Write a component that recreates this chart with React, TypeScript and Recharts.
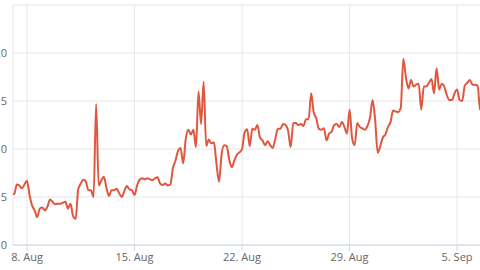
import { LineChart, Line, XAxis, YAxis, CartesianGrid } from 'recharts';

const DAY = 86400000;
const START = Date.UTC(2021, 7, 7);
const STEP = 4 * 3600 * 1000;

// one reading every 4 hours, starting 7 Aug
const values = [
    5.4, 5.3, 6.3, 6.2, 5.9, 6.3,
    6.7, 5.2, 4.1, 3.6, 2.9, 3.8,
    3.9, 3.6, 4.0, 4.75, 4.5, 4.25,
    4.3, 4.3, 4.4, 4.5, 3.8, 4.3,
    3.0, 2.7, 5.8, 6.4, 6.8, 6.6,
    5.7, 5.7, 5.0, 14.7, 6.2, 6.7,
    7.1, 6.0, 5.1, 5.7, 5.7, 5.85,
    5.4, 5.0, 5.6, 6.15, 5.8, 5.7,
    5.2, 6.2, 6.8, 6.95, 6.85, 6.95,
    6.85, 6.75, 6.95, 7.05, 6.4, 6.25,
    6.4, 6.2, 6.3, 8.0, 8.8, 9.8,
    10.1, 8.5, 11.0, 12.0, 11.5, 12.0,
    10.2, 16.0, 12.6, 17.0, 10.3, 11.0,
    10.6, 10.7, 8.5, 6.6, 9.4, 10.4,
    10.3, 8.9, 8.1, 8.8, 9.4, 9.65,
    10.0, 11.7, 12.05, 10.3, 12.1, 12.0,
    12.5, 11.2, 10.9, 10.4, 10.8, 10.4,
    10.1, 11.1, 12.1, 12.1, 12.6, 12.5,
    11.9, 10.2, 12.7, 12.7, 12.5, 12.6,
    12.4, 13.1, 13.1, 15.8, 13.8, 13.2,
    12.1, 12.0, 12.15, 10.9, 11.6, 11.8,
    12.5, 12.6, 12.3, 12.8, 12.3, 11.6,
    14.1, 11.1, 10.4, 12.7, 12.3, 12.15,
    12.0, 12.4, 13.3, 15.1, 13.0, 9.6,
    10.3, 11.2, 11.5, 12.3, 12.8, 14.0,
    13.9, 13.85, 14.3, 19.4, 17.5, 16.3,
    17.2, 16.5, 16.7, 16.8, 14.1, 16.5,
    16.5, 16.9, 17.3, 15.8, 18.4, 16.2,
    16.8, 16.5, 15.6, 15.1, 15.1, 15.8,
    16.2, 15.1, 15.0, 16.6, 16.9, 17.2,
    16.7, 16.7, 16.6, 14.1, 14.0,
];

const tickDates = [
    Date.UTC(2021, 7, 8),
    Date.UTC(2021, 7, 15),
    Date.UTC(2021, 7, 22),
    Date.UTC(2021, 7, 29),
    Date.UTC(2021, 8, 5),
];
const tickLabels = ['8. Aug', '15. Aug', '22. Aug', '29. Aug', '5. Sep'];
const yTicks = [0, 5, 10, 15, 20, 25];

const data = values.map((v, i) => ({ t: START + i * STEP, v }));

const xDomain = [tickDates[0] - 0.9115 * DAY, tickDates[0] + 30.794 * DAY];

const labelStyle = { fill: '#666666', fontSize: 11, fontFamily: '"Open Sans", sans-serif' };

export default function App() {
    return (
        <div style={{ position: 'fixed', top: 0, left: 0, width: 480, height: 270, overflow: 'hidden', background: '#fff' }}>
            <div style={{ position: 'absolute', left: -20, top: 0 }}>
                <LineChart width={520} height={270} data={data} margin={{ top: 5, right: 0, bottom: 0, left: 0 }}>
                    <CartesianGrid stroke="#e6e6e6" />
                    <XAxis
                        dataKey="t"
                        type="number"
                        domain={xDomain}
                        allowDataOverflow
                        ticks={tickDates}
                        interval={0}
                        tickFormatter={(v) => tickLabels[tickDates.indexOf(v)] ?? ''}
                        height={25}
                        tick={labelStyle}
                        axisLine={{ stroke: '#ccd6eb' }}
                        tickLine={{ stroke: '#ccd6eb' }}
                        tickSize={6}
                        tickMargin={2}
                    />
                    <YAxis
                        type="number"
                        domain={[0, 25]}
                        ticks={yTicks}
                        interval={0}
                        width={33}
                        tickFormatter={(v) => (v === 25 ? '' : String(v))}
                        tick={labelStyle}
                        axisLine={false}
                        tickLine={false}
                        tickSize={4}
                        tickMargin={2}
                    />
                    <Line
                        type="monotone"
                        dataKey="v"
                        stroke="#e0573f"
                        strokeWidth={2}
                        dot={false}
                        isAnimationActive={false}
                    />
                </LineChart>
            </div>
        </div>
    );
}
